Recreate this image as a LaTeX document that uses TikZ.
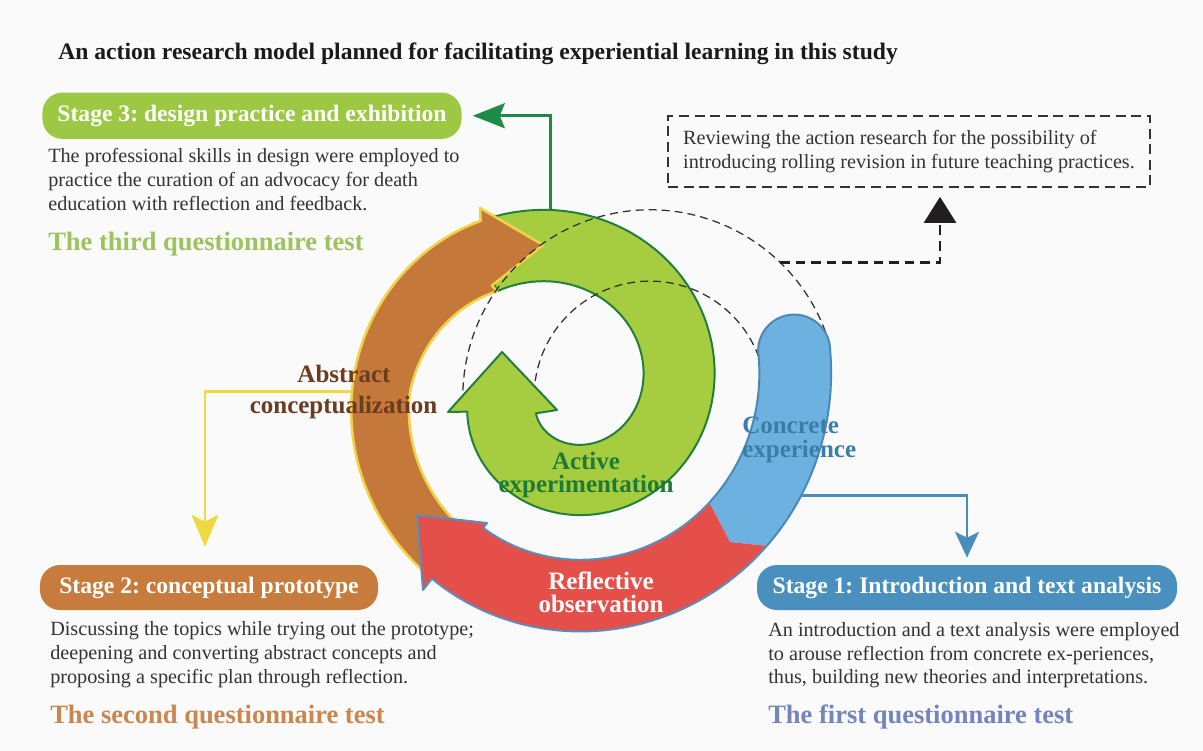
\documentclass[tikz,border=0pt]{standalone}
\usepackage{fontspec}
\setmainfont{Liberation Serif}
\usetikzlibrary{arrows.meta,calc}
\frenchspacing

\definecolor{pagebg}{HTML}{FAFAFA}
\definecolor{grfill}{HTML}{A6CD40}
\definecolor{grline}{HTML}{1F7F3B}
\definecolor{brfill}{HTML}{C4793A}
\definecolor{brline}{HTML}{F2D048}
\definecolor{rdfill}{HTML}{E54F4A}
\definecolor{rdline}{HTML}{5A8DBB}
\definecolor{blfill}{HTML}{6DB1E0}
\definecolor{blline}{HTML}{4A88B6}
\definecolor{sthree}{HTML}{9CC843}
\definecolor{stwo}{HTML}{C77B3C}
\definecolor{sone}{HTML}{4A90BE}
\definecolor{qthree}{HTML}{9DC35E}
\definecolor{qtwo}{HTML}{C8874F}
\definecolor{qone}{HTML}{7484BC}
\definecolor{bodytxt}{HTML}{333333}
\definecolor{titleblk}{HTML}{1A1A1A}
\definecolor{abstxt}{HTML}{6B3C20}
\definecolor{acttxt}{HTML}{1E7A34}
\definecolor{contxt}{HTML}{3A7EA8}
\definecolor{ylarrow}{HTML}{F0D93E}
\definecolor{grarrow}{HTML}{1E8A48}
\definecolor{blarrow}{HTML}{4A8DBB}
\definecolor{dashgray}{HTML}{333333}
\definecolor{revblack}{HTML}{221E1F}

\newcommand{\txttitle}{\fontsize{16.8}{20}\selectfont\bfseries}
\newcommand{\txthead}{\fontsize{16.8}{20}\selectfont\bfseries}
\newcommand{\txtbody}{\fontsize{14.37}{17.07}\selectfont}
\newcommand{\txtquest}{\fontsize{18.85}{22}\selectfont\bfseries}
\newcommand{\txtlabel}{\fontsize{17.78}{20}\selectfont\bfseries}

\begin{document}
\begin{tikzpicture}[x=0.25mm, y=-0.25mm,
  declare function={sr(\a)=115.5+0.325*\a; bw(\a)=22+14*max(0,min(1,(180-\a)/57));},
  greenband/.style={fill=grfill, draw=grline, line width=1.4pt, line join=round},
  brownband/.style={fill=brfill, draw=brline, line width=1.8pt, line join=round},
  rededge/.style={draw=rdline, line width=1.4pt, line join=round},
  blueedge/.style={draw=blline, line width=1.4pt, line join=round},
  spiraldash/.style={draw=dashgray, line width=0.9pt, dash pattern=on 2mm off 1.25mm},
  stagebox/.style={rounded corners=5mm, text=white, font=\txthead, inner sep=0pt},
  bodyline/.style={anchor=base west, inner sep=0pt, text=bodytxt, font=\txtbody},
  questline/.style={anchor=base west, inner sep=0pt, font=\txtquest},
  cyclelabel/.style={anchor=base, inner sep=0pt, font=\txtlabel},
  grconn/.style={draw=grarrow, line width=2.1pt, -{Stealth[length=8mm, width=6.25mm, inset=1.25mm]}},
  ylconn/.style={draw=ylarrow, line width=1.5pt, -{Stealth[length=8mm, width=6.75mm, inset=1.75mm]}},
  blconn/.style={draw=blarrow, line width=1.8pt, -{Stealth[length=6.5mm, width=6mm, inset=1.5mm]}},
  revconn/.style={draw=revblack, line width=2pt, dash pattern=on 2.4mm off 1.5mm, -{Triangle[length=6.5mm, width=8mm]}}
]
% page
\fill[pagebg] (0,0) rectangle (1203,751);
\useasboundingbox (0,0) rectangle (1203,751);

% stage headings
\node[stagebox, fill=sthree, minimum width=104.75mm, minimum height=11.6mm] (s3) at (252,115.75) {Stage 3: design practice and exhibition};
\node[stagebox, fill=stwo, minimum width=84.5mm, minimum height=11.25mm] (s2) at (209,587.5) {Stage 2: conceptual prototype};
\node[stagebox, fill=sone, minimum width=105mm, minimum height=11.25mm] (s1) at (967,587.5) {Stage 1: Introduction and text analysis};

% points on the spiral where the stage connectors leave
\begin{scope}[shift={(562,391.5)}, yscale=-1]
  \coordinate (gsrc) at (93.5:{sr(93.5)+36});
  \coordinate (ysrc) at (180:{sr(180)+36});
  \coordinate (bsrc) at (336.5:{sr(336.5)+36});
\end{scope}

\draw[grconn, shorten >=2.75mm] (gsrc) |- (s3);
\draw[ylconn, shorten >=4.5mm] (ysrc) -| ([xshift=-1mm]s2.north);
\draw[blconn, shorten >=1.75mm] (bsrc) -| (s1.north);

% inner turn of the spiral: active experimentation and abstract conceptualization
\begin{scope}[shift={(562,391.5)}, yscale=-1]
  \path[greenband] plot[domain=118:-168, samples=90] (\x:{sr(\x)+36})
     -- (-114,-20.5) -- (-60,39.5) -- (-5,-18.5)
     -- plot[domain=-140:123, samples=90] (\x:{sr(\x)-36}) -- cycle;
  \path[brownband] plot[domain=234:115.5, samples=70] (\x:{sr(\x)+36})
     -- (-82,183.5) -- (-19,146.5) -- (-70,106)
     -- plot[domain=123:234, samples=70] (\x:{sr(\x)-bw(\x)}) -- cycle;
\end{scope}

% next cycle, dashed
\begin{scope}[shift={(650,397)}, yscale=-1]
  \draw[spiraldash] (16.35:187.2) arc[start angle=16.35, end angle=179.5, radius=187.2];
  \draw[spiraldash] (20.28:115.9) arc[start angle=20.28, end angle=174.75, radius=115.9];
  \coordinate (rsrc) at (46:187.2);
\end{scope}

% outer turn: concrete experience and reflective observation
\begin{scope}[shift={(562,391.5)}, yscale=-1]
  \fill[blfill] (323:{sr(323)-36}) -- (168,-150.5) -- (323:{sr(323)+36})
     -- plot[domain=323:370, samples=30] (\x:{sr(\x)+36})
     arc[start angle=370, end angle=550, radius=36]
     -- plot[domain=370:323, samples=30] (\x:{sr(\x)-36}) -- cycle;
  \draw[blueedge] plot[domain=323:370, samples=30] (\x:{sr(\x)+36})
     arc[start angle=370, end angle=550, radius=36]
     -- plot[domain=370:323, samples=30] (\x:{sr(\x)-36});
  \fill[rdfill] (323:{sr(323)-36}) -- (168,-150.5) -- (323:{sr(323)+36})
     -- plot[domain=323:235.2, samples=60] (\x:{sr(\x)+36})
     -- (-139,-198.5) -- (-145,-123.5) -- (-75,-131.5)
     -- plot[domain=240:323, samples=60] (\x:{sr(\x)-36}) -- cycle;
  \draw[rededge] plot[domain=323:235.2, samples=60] (\x:{sr(\x)+36})
     -- (-139,-198.5) -- (-145,-123.5) -- (-75,-131.5)
     -- plot[domain=240:323, samples=60] (\x:{sr(\x)-36});
\end{scope}

% review box and its connector
\node[draw=dashgray, line width=1.2pt, dash pattern=on 2.5mm off 1.4mm, minimum width=120.5mm, minimum height=17.75mm, align=left, font=\txtbody, text=bodytxt, inner sep=0pt] (review) at (909,151.5) {Reviewing the action research for the possibility of\\introducing rolling revision in future teaching practices.};
\draw[revconn, shorten >=2.25mm] (rsrc) -| ([xshift=7.75mm]review.south);

% cycle labels
\node[cyclelabel, text=abstxt] (absa) at (344,382) {Abstract};
\node[cyclelabel, text=abstxt] (absb) at (343.5,413) {conceptualization};
\node[cyclelabel, text=acttxt] (acta) at (586,469) {Active};
\node[cyclelabel, text=acttxt] (actb) at (586,492) {experimentation};
\node[cyclelabel, anchor=base west, text=contxt] (cona) at (742,433) {Concrete};
\node[cyclelabel, anchor=base west, text=contxt] (conb) at (742,457) {experience};
\node[cyclelabel, text=white] (refa) at (601,589) {Reflective};
\node[cyclelabel, text=white] (refb) at (601,612) {observation};

% title
\node[anchor=base west, inner sep=0pt, font=\txttitle, text=titleblk] (title) at (58,60) {An action research model planned for facilitating experiential learning in this study};

% stage 3 text
\node[bodyline] (t3a) at (48,162.5) {The professional skills in design were employed to};
\node[bodyline] (t3b) at (48,186.5) {practice the curation of an advocacy for death};
\node[bodyline] (t3c) at (48,210.5) {education with reflection and feedback.};
\node[questline, text=qthree] (q3) at (48,250.5) {The third questionnaire test};

% stage 2 text
\node[bodyline] (t2a) at (50,635) {Discussing the topics while trying out the prototype;};
\node[bodyline] (t2b) at (50,659) {deepening and converting abstract concepts and};
\node[bodyline] (t2c) at (50,683) {proposing a specific plan through reflection.};
\node[questline, text=qtwo] (q2) at (50,723) {The second questionnaire test};

% stage 1 text
\node[bodyline] (t1a) at (768,636.7) {An introduction and a text analysis were employed};
\node[bodyline] (t1b) at (768,660) {to arouse reflection from concrete ex-periences,};
\node[bodyline] (t1c) at (768,683.3) {thus, building new theories and interpretations.};
\node[questline, text=qone] (q1) at (768,723.3) {The first questionnaire test};
\end{tikzpicture}
\end{document}
